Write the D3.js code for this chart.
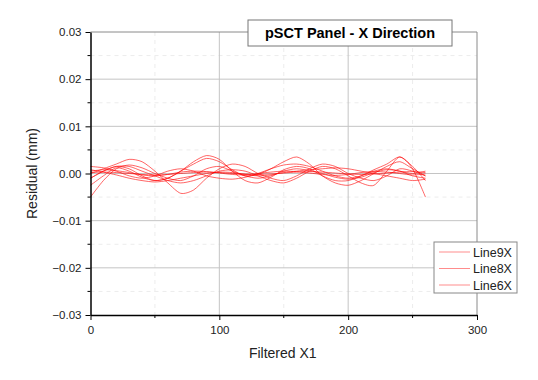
<!DOCTYPE html>
<html>
<head>
<meta charset="utf-8">
<script src="https://cdn.jsdelivr.net/npm/d3@7"></script>
<style>
  body { margin: 0; background: #fff; }
  text { font-family: "Liberation Sans", Arial, sans-serif; }
</style>
</head>
<body>
<div id="chart"></div>
<script>
// x positions of the filtered samples (Filtered X1)
const xSteps = [0,10,20,30,40,50,60,70,80,90,100,110,120,130,140,150,160,170,180,190,200,210,220,230,240,250,260];

// residuals, in micrometres (converted to mm when drawn)
const line9X = [
  [0.5,0.8,0.6,0.2,-0.3,-0.5,-0.2,0.3,0.5,0.4,0.1,-0.2,-0.3,0,0.3,0.5,0.4,0.1,-0.2,-0.4,-0.2,0.2,0.4,0.3,0,-0.3,-0.1],
  [-1.0,0.5,1.5,1.0,-0.5,-1.5,-1.0,0.5,2.5,3.8,3.0,0.5,-1.5,-2.0,-0.8,0.8,1.5,1.0,-0.5,-1.5,-1.5,-0.5,0.8,2.0,3.5,1.5,-1.5],
  [-5.0,-1.5,1.0,1.8,1.2,0,-1.0,-1.5,-0.5,1.0,1.5,0.5,-0.5,-1.0,-0.5,0.5,1.0,0.6,0,-0.8,-1.2,-0.8,0.2,0.8,0.5,-0.5,-1.0]
];
const line8X = [
  [0,1.0,2.0,3.0,2.5,0.5,-2.0,-4.2,-3.5,-1.0,1.0,2.0,1.5,0,-1.0,-1.5,-0.5,1.0,2.0,1.5,0,-1.0,-1.5,-0.5,1.0,0.5,-0.5],
  [-2.5,-0.5,1.2,0.5,-0.8,-1.5,-1.0,0.5,2.0,3.2,2.5,0.8,-0.5,-0.2,1.0,2.5,3.5,2.0,-0.5,-2.0,-2.5,-1.5,0,1.5,2.5,1.0,-0.5],
  [0.8,0.3,-0.3,-1.0,-1.5,-1.8,-1.5,-1.0,-0.5,0,0.3,0.2,-0.2,-0.5,-0.3,0.2,0.5,0.8,1.0,1.2,1.0,0.5,0,-0.5,-1.0,-1.5,-1.2]
];
const line6X = [
  [0.2,0.3,0.2,0,-0.2,-0.3,-0.2,0,0.2,0.3,0.2,0,-0.1,-0.2,-0.1,0.1,0.3,0.4,0.3,0.1,-0.1,-0.2,-0.1,0.1,0.3,0.4,0.2],
  [-1.0,0.5,1.5,1.5,0.5,-0.5,-1.5,-2.0,-1.5,-0.5,0.5,0.8,0.5,-0.5,-1.5,-2.0,-1.0,0.5,1.5,1.0,-0.5,-2.0,-2.5,0.5,3.5,1.0,-5.0],
  [1.5,1.2,0.5,-0.5,-1.0,-0.5,0.5,1.0,0.5,-0.5,-1.0,-1.2,-0.8,0,1.0,1.8,2.0,1.5,0.5,-0.5,-1.0,-0.5,0.5,1.0,0.5,0,0.5]
];
const seriesNames = ["Line9X", "Line8X", "Line6X"];
const seriesData = [line9X, line8X, line6X];

const xTicks = [0, 100, 200, 300];
const yTicks = [-0.03, -0.02, -0.01, 0, 0.01, 0.02, 0.03];
const chartTitle = "pSCT Panel - X Direction";

const width = 538, height = 380;
const margin = {top: 32, right: 61, bottom: 65, left: 90.5};
const innerWidth = width - margin.left - margin.right;
const innerHeight = height - margin.top - margin.bottom;

const svg = d3.select("#chart").append("svg")
  .attr("width", width)
  .attr("height", height);

const g = svg.append("g")
  .attr("transform", "translate(" + margin.left + "," + margin.top + ")");

const xScale = d3.scaleLinear().domain([0, 300]).range([0, innerWidth]);
const yScale = d3.scaleLinear().domain([-0.03, 0.03]).range([innerHeight, 0]);

// minor grid (dashed)
const xMinor = d3.range(50, 300, 100);
const yMinor = d3.range(-0.025, 0.03, 0.01);
g.append("g").selectAll("line").data(xMinor).join("line")
  .attr("x1", d => xScale(d)).attr("x2", d => xScale(d))
  .attr("y1", 0).attr("y2", innerHeight)
  .attr("stroke", "#ececec").attr("stroke-dasharray", "4,4");
g.append("g").selectAll("line").data(yMinor).join("line")
  .attr("y1", d => yScale(d)).attr("y2", d => yScale(d))
  .attr("x1", 0).attr("x2", innerWidth)
  .attr("stroke", "#ececec").attr("stroke-dasharray", "4,4");

// major grid (solid)
g.append("g").selectAll("line").data(xTicks.slice(1, -1)).join("line")
  .attr("x1", d => xScale(d)).attr("x2", d => xScale(d))
  .attr("y1", 0).attr("y2", innerHeight)
  .attr("stroke", "#c4c4c4");
g.append("g").selectAll("line").data(yTicks.slice(1, -1)).join("line")
  .attr("y1", d => yScale(d)).attr("y2", d => yScale(d))
  .attr("x1", 0).attr("x2", innerWidth)
  .attr("stroke", "#c4c4c4");

// top / right frame
g.append("line").attr("x1", 0).attr("x2", innerWidth).attr("y1", 0).attr("y2", 0)
  .attr("stroke", "#8a8a8a");
g.append("line").attr("x1", innerWidth).attr("x2", innerWidth).attr("y1", 0).attr("y2", innerHeight)
  .attr("stroke", "#8a8a8a");

// curves
const line = d3.line()
  .x((d, i) => xScale(xSteps[i]))
  .y(d => yScale(d / 1000))
  .curve(d3.curveCardinal.tension(0.2));

seriesData.forEach((curves, s) => {
  g.append("g").attr("class", "series-" + s)
    .selectAll("path").data(curves).join("path")
    .attr("d", line)
    .attr("fill", "none")
    .attr("stroke", "#ff0000")
    .attr("stroke-opacity", 0.6)
    .attr("stroke-width", 1);
});

// axes
const xAxis = d3.axisBottom(xScale).tickValues(xTicks).tickFormat(d3.format("d")).tickSize(5).tickSizeOuter(0);
const yAxis = d3.axisLeft(yScale).tickValues(yTicks).tickFormat(d3.format(".2f")).tickSize(5).tickSizeOuter(0);

const gx = g.append("g").attr("transform", "translate(0," + innerHeight + ")").call(xAxis);
const gy = g.append("g").call(yAxis);

[gx, gy].forEach(a => {
  a.select(".domain").attr("stroke", "#000").attr("stroke-width", 1.5);
  a.selectAll(".tick line").attr("stroke", "#000");
  a.selectAll(".tick text").attr("fill", "#222").style("font-size", "11.5px")
    .style("font-family", "'Liberation Sans', Arial, sans-serif");
});
gx.selectAll(".tick text").attr("dy", "1em").attr("y", 7);
gy.selectAll(".tick text").attr("x", -9);

// minor ticks
g.append("g").selectAll("line").data(xMinor).join("line")
  .attr("x1", d => xScale(d)).attr("x2", d => xScale(d))
  .attr("y1", innerHeight).attr("y2", innerHeight + 3)
  .attr("stroke", "#000");
g.append("g").selectAll("line").data(yMinor).join("line")
  .attr("y1", d => yScale(d)).attr("y2", d => yScale(d))
  .attr("x1", 0).attr("x2", -3)
  .attr("stroke", "#000");

// axis titles
svg.append("text")
  .attr("x", margin.left + innerWidth / 2 - 1)
  .attr("y", 358)
  .attr("text-anchor", "middle")
  .style("font-size", "14px")
  .attr("fill", "#222")
  .text("Filtered X1");

svg.append("text")
  .attr("transform", "translate(37," + (margin.top + innerHeight / 2) + ") rotate(-90)")
  .attr("text-anchor", "middle")
  .style("font-size", "14px")
  .attr("fill", "#222")
  .text("Residual (mm)");

// title box
const titleG = svg.append("g").attr("transform", "translate(248,20)");
titleG.append("rect")
  .attr("width", 204).attr("height", 26)
  .attr("fill", "#fff").attr("stroke", "#777");
titleG.append("text")
  .attr("x", 102).attr("y", 18)
  .attr("text-anchor", "middle")
  .style("font-size", "14.5px")
  .style("font-weight", "bold")
  .attr("fill", "#000")
  .text(chartTitle);

// legend
const legend = svg.append("g").attr("transform", "translate(434,242)");
legend.append("rect")
  .attr("width", 83).attr("height", 51)
  .attr("fill", "#fff").attr("stroke", "#888");
const items = legend.selectAll("g").data(seriesNames).join("g")
  .attr("transform", (d, i) => "translate(0," + (10 + i * 16.5) + ")");
items.append("line")
  .attr("x1", 5).attr("x2", 36)
  .attr("stroke", "#ff0000").attr("stroke-opacity", 0.45);
items.append("text")
  .attr("x", 39).attr("y", 4.5)
  .style("font-size", "12.5px")
  .attr("fill", "#222")
  .text(d => d);
</script>
</body>
</html>
